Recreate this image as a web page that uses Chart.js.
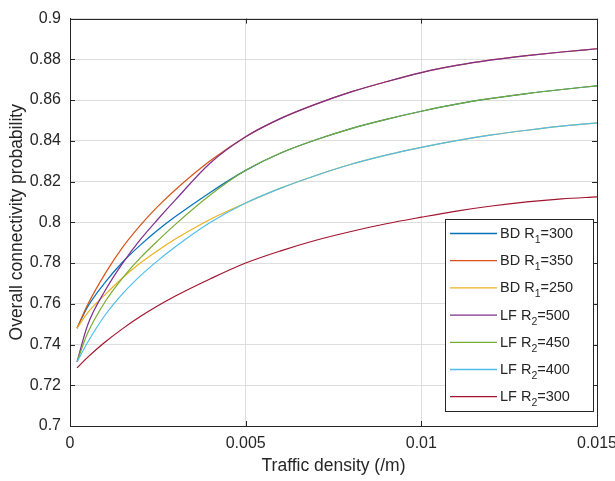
<!DOCTYPE html>
<html lang="en">
<head>
  <meta charset="UTF-8" />
  <title>Overall connectivity probability vs traffic density</title>
  <script src="https://cdn.jsdelivr.net/npm/chart.js"></script>
  <style>
    html, body { margin: 0; padding: 0; background: #fff; }
    #wrap { width: 615px; height: 481px; }
  </style>
</head>
<body>
<div id="wrap"><canvas id="chart" width="615" height="481"></canvas></div>

<script>
  const density = [0.0002, 0.0005, 0.001, 0.0015, 0.002, 0.0025, 0.003, 0.004, 0.005, 0.006,
                   0.007, 0.008, 0.009, 0.010, 0.011, 0.012, 0.013, 0.014, 0.015];

  const bdR1_300 = [0.748, 0.7585, 0.7705, 0.7805, 0.7888, 0.7962, 0.8028, 0.8148, 0.8255, 0.8340,
                    0.8405, 0.8460, 0.8505, 0.8545, 0.8580, 0.8608, 0.8632, 0.8652, 0.8670];
  const bdR1_350 = [0.748, 0.7595, 0.7748, 0.7878, 0.7985, 0.8078, 0.8160, 0.8303, 0.842, 0.851,
                    0.858, 0.864, 0.869, 0.8735, 0.877, 0.8797, 0.8818, 0.8836, 0.8852];
  const bdR1_250 = [0.748, 0.7555, 0.7645, 0.7728, 0.7800, 0.7862, 0.7918, 0.8015, 0.8095, 0.8168,
                    0.8230, 0.8285, 0.8330, 0.8368, 0.8401, 0.8429, 0.8452, 0.8472, 0.8488];
  const lfR2_500 = [0.7315, 0.7495, 0.7665, 0.7800, 0.7915, 0.8015, 0.8110, 0.8292, 0.842, 0.851,
                    0.858, 0.864, 0.869, 0.8735, 0.877, 0.8797, 0.8818, 0.8836, 0.8852];
  const lfR2_450 = [0.7315, 0.7455, 0.7610, 0.7727, 0.7825, 0.7910, 0.7990, 0.8135, 0.8255, 0.8340,
                    0.8405, 0.8460, 0.8505, 0.8545, 0.8580, 0.8608, 0.8632, 0.8652, 0.8670];
  const lfR2_400 = [0.7315, 0.7410, 0.7545, 0.7650, 0.7737, 0.7812, 0.7880, 0.8000, 0.8095, 0.8168,
                    0.8230, 0.8285, 0.8330, 0.8368, 0.8401, 0.8429, 0.8452, 0.8472, 0.8488];
  const lfR2_300 = [0.7285, 0.7337, 0.7412, 0.7478, 0.7537, 0.7590, 0.7638, 0.7723, 0.7800, 0.7860,
                    0.7912, 0.7955, 0.7993, 0.8025, 0.8055, 0.8080, 0.8100, 0.8115, 0.8125];

  const seriesLabels = ['BD R₁=300', 'BD R₁=350', 'BD R₁=250', 'LF R₂=500', 'LF R₂=450', 'LF R₂=400', 'LF R₂=300'];
  const seriesValues = [bdR1_300, bdR1_350, bdR1_250, lfR2_500, lfR2_450, lfR2_400, lfR2_300];
  const seriesColors = ['#0072BD', '#D95319', '#EDB120', '#7E2F8E', '#77AC30', '#4DBEEE', '#A2142F'];

  const xTicks = [0, 0.005, 0.01, 0.015];
  const yTicks = [0.7, 0.72, 0.74, 0.76, 0.78, 0.8, 0.82, 0.84, 0.86, 0.88, 0.9];

  const axisColor = '#262626';
  const fontFamily = "'Liberation Sans', Arial, Helvetica, sans-serif";
  const subDigits = '₀₁₂₃₄₅₆₇₈₉';

  // draws text where unicode subscript digits are rendered smaller and lowered
  function drawRichText(ctx, text, x, y) {
    const runs = text.match(/[₀-₉]+|[^₀-₉]+/g);
    let cx = x;
    runs.forEach(run => {
      if (subDigits.includes(run[0])) {
        const plain = [...run].map(c => subDigits.indexOf(c)).join('');
        ctx.font = '10.5px ' + fontFamily;
        ctx.fillText(plain, cx, y + 5);
        cx += ctx.measureText(plain).width;
      } else {
        ctx.font = '14.5px ' + fontFamily;
        ctx.fillText(run, cx, y);
        cx += ctx.measureText(run).width;
      }
    });
  }

  // box, inward ticks on all four sides, and the legend inside the axes
  const matlabFrame = {
    id: 'matlabFrame',
    afterDraw(chart) {
      const { ctx, chartArea: a, scales: { x, y } } = chart;
      ctx.save();
      ctx.strokeStyle = axisColor;
      ctx.lineWidth = 1;
      ctx.beginPath();
      xTicks.forEach(v => {
        const px = Math.round(x.getPixelForValue(v)) + 0.5;
        ctx.moveTo(px, a.bottom); ctx.lineTo(px, a.bottom - 5);
        ctx.moveTo(px, a.top); ctx.lineTo(px, a.top + 5);
      });
      yTicks.forEach(v => {
        const py = Math.round(y.getPixelForValue(v)) + 0.5;
        ctx.moveTo(a.left, py); ctx.lineTo(a.left + 5, py);
        ctx.moveTo(a.right, py); ctx.lineTo(a.right - 5, py);
      });
      ctx.stroke();
      ctx.strokeRect(Math.round(a.left) + 0.5, Math.round(a.top) + 0.5,
                     Math.round(a.right - a.left), Math.round(a.bottom - a.top));

      // legend
      const bx = Math.round(a.right) - 152, by = Math.round(a.bottom) - 207;
      const bw = 148, bh = 192;
      ctx.fillStyle = '#fff';
      ctx.fillRect(bx, by, bw, bh);
      ctx.strokeRect(bx + 0.5, by + 0.5, bw, bh);
      ctx.textBaseline = 'alphabetic';
      ctx.textAlign = 'left';
      seriesLabels.forEach((lbl, i) => {
        const ly = by + 14.5 + i * 27.2;
        ctx.strokeStyle = seriesColors[i];
        ctx.lineWidth = 1.3;
        ctx.beginPath();
        ctx.moveTo(bx + 5, ly); ctx.lineTo(bx + 52, ly);
        ctx.stroke();
        ctx.fillStyle = axisColor;
        drawRichText(ctx, lbl, bx + 55, ly + 4.5);
      });
      ctx.restore();
    }
  };

  const datasets = seriesLabels.map((lbl, i) => ({
    label: lbl,
    data: density.map((d, j) => ({ x: d, y: seriesValues[i][j] })),
    borderColor: seriesColors[i],
    backgroundColor: seriesColors[i],
    borderWidth: 1.2,
    pointRadius: 0,
    fill: false,
    cubicInterpolationMode: 'monotone',
    order: seriesLabels.length - 1 - i
  }));

  new Chart(document.getElementById('chart'), {
    type: 'line',
    data: { datasets },
    plugins: [matlabFrame],
    options: {
      responsive: false,
      animation: false,
      events: [],
      layout: { padding: { top: 14, right: 18, left: 0, bottom: 0 } },
      plugins: { legend: { display: false }, tooltip: { enabled: false } },
      scales: {
        x: {
          type: 'linear',
          min: 0, max: 0.015,
          afterBuildTicks: s => { s.ticks = xTicks.map(v => ({ value: v })); },
          afterFit: s => { s.height = 55; s.paddingLeft = 0; s.paddingRight = 0; },
          grid: { color: '#dedede', drawTicks: false },
          border: { color: axisColor, width: 1 },
          ticks: {
            padding: 8,
            color: axisColor,
            font: { family: fontFamily, size: 16 },
            maxRotation: 0,
            callback: v => String(Number(v.toFixed(4)))
          },
          title: {
            display: true,
            text: 'Traffic density (/m)',
            color: axisColor,
            font: { family: fontFamily, size: 17.5 },
            padding: { top: 0, bottom: 4 }
          }
        },
        y: {
          min: 0.7, max: 0.9,
          afterBuildTicks: s => { s.ticks = yTicks.map(v => ({ value: v })); },
          afterFit: s => { s.width = 70; },
          grid: { color: '#dedede', drawTicks: false },
          border: { color: axisColor, width: 1 },
          ticks: {
            padding: 9,
            color: axisColor,
            font: { family: fontFamily, size: 16 },
            callback: v => String(Number(v.toFixed(4)))
          },
          title: {
            display: true,
            text: 'Overall connectivity probability',
            color: axisColor,
            font: { family: fontFamily, size: 17.5 },
            padding: { top: 7, bottom: 0 }
          }
        }
      }
    }
  });
</script>
</body>
</html>
